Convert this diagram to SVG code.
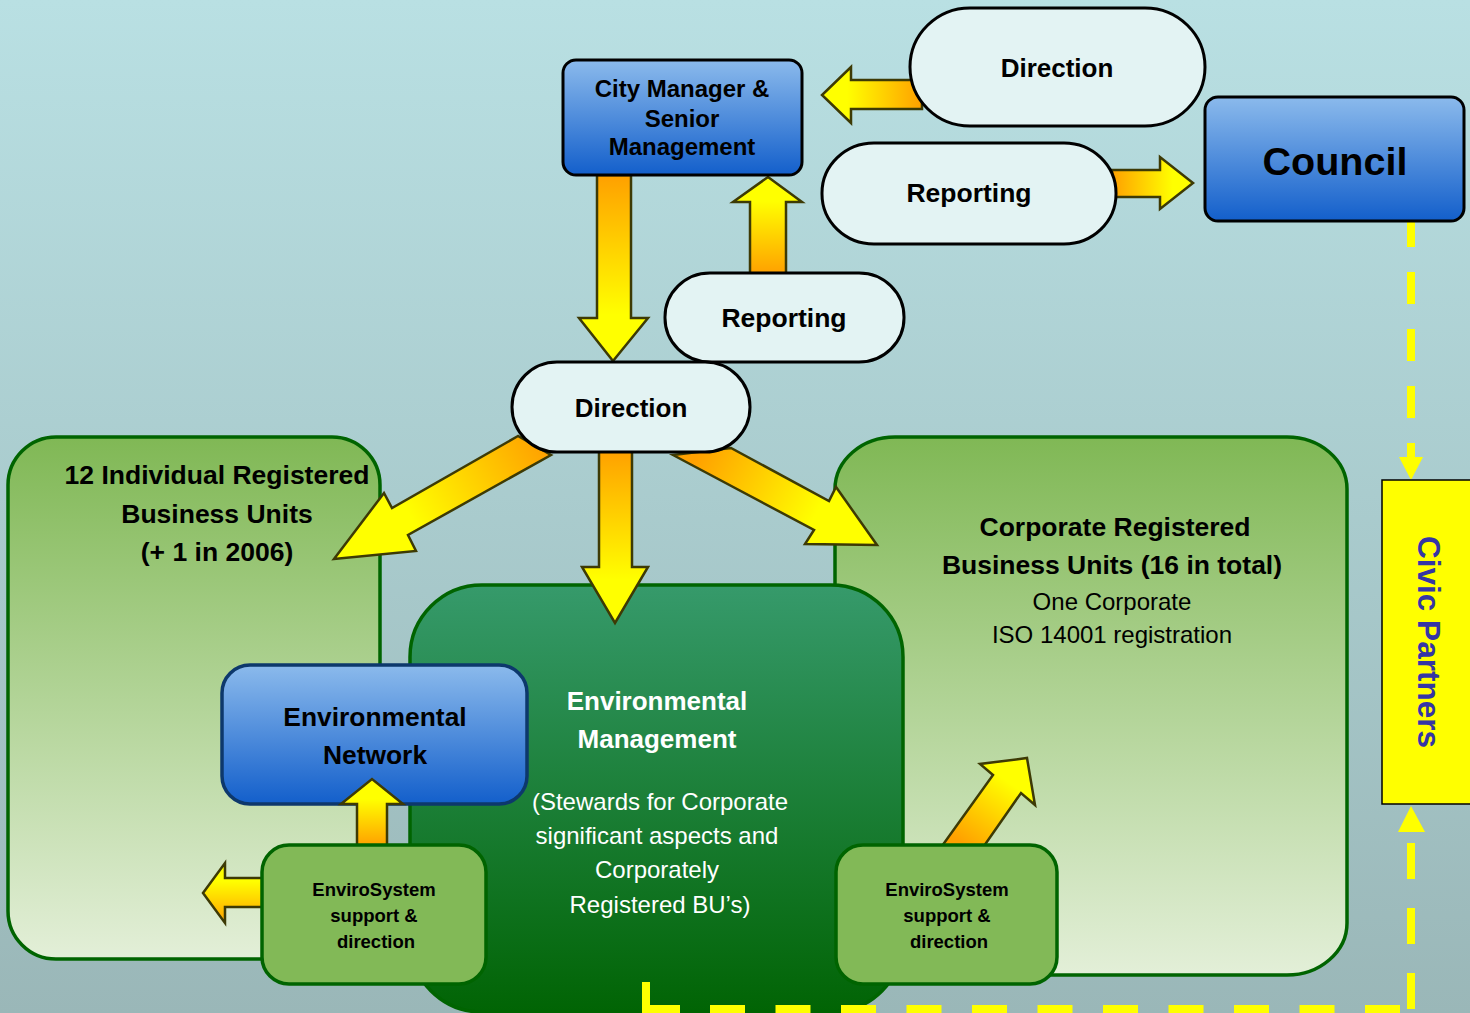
<svg xmlns="http://www.w3.org/2000/svg" width="1470" height="1013" viewBox="0 0 1470 1013">
<defs>
<linearGradient id="bg" x1="0" y1="0" x2="0" y2="1"><stop offset="0" stop-color="#b9e0e3"/><stop offset="1" stop-color="#9ab7b8"/></linearGradient>
<linearGradient id="lgreen" x1="0" y1="0" x2="0" y2="1"><stop offset="0" stop-color="#80b855"/><stop offset="1" stop-color="#e3efd8"/></linearGradient>
<linearGradient id="dgreen" x1="0" y1="0" x2="0" y2="1"><stop offset="0" stop-color="#369a6b"/><stop offset="1" stop-color="#016404"/></linearGradient>
<linearGradient id="blue" x1="0" y1="0" x2="0" y2="1"><stop offset="0" stop-color="#8bbaec"/><stop offset="1" stop-color="#135fcb"/></linearGradient>
<linearGradient id="gDown" x1="0" y1="0" x2="0" y2="1"><stop offset="0" stop-color="#ffa000"/><stop offset="0.75" stop-color="#ffff00"/></linearGradient>
<linearGradient id="gUp" x1="0" y1="1" x2="0" y2="0"><stop offset="0" stop-color="#ffa000"/><stop offset="0.75" stop-color="#ffff00"/></linearGradient>
<linearGradient id="gLeft" x1="1" y1="0" x2="0" y2="0"><stop offset="0" stop-color="#ffa000"/><stop offset="0.75" stop-color="#ffff00"/></linearGradient>
<linearGradient id="gRight" x1="0" y1="0" x2="1" y2="0"><stop offset="0" stop-color="#ffa000"/><stop offset="0.75" stop-color="#ffff00"/></linearGradient>
<linearGradient id="gUpRev" x1="0" y1="0" x2="0" y2="1"><stop offset="0.3" stop-color="#ffff00"/><stop offset="1" stop-color="#ffa000"/></linearGradient>
<linearGradient id="gDL" gradientUnits="userSpaceOnUse" x1="545" y1="445" x2="380" y2="540"><stop offset="0" stop-color="#ffa000"/><stop offset="0.8" stop-color="#ffff00"/></linearGradient>
<linearGradient id="gDR" gradientUnits="userSpaceOnUse" x1="700" y1="450" x2="845" y2="530"><stop offset="0" stop-color="#ffa000"/><stop offset="0.8" stop-color="#ffff00"/></linearGradient>
<linearGradient id="gUR" gradientUnits="userSpaceOnUse" x1="963" y1="844" x2="1015" y2="770"><stop offset="0" stop-color="#ffa000"/><stop offset="0.85" stop-color="#ffff00"/></linearGradient>
<style>
text{font-family:"Liberation Sans",Arial,sans-serif;text-anchor:middle;}
.b{font-weight:bold;}
.w{fill:#fff;}
.arrow{stroke:#3d3a05;stroke-width:2.5;stroke-linejoin:miter;}
.pill{fill:#e3f3f3;stroke:#000;stroke-width:3;}
.bluebox{fill:url(#blue);stroke:#000;stroke-width:3;}
.gbox{fill:url(#lgreen);stroke:#006400;stroke-width:3.5;}
.ebox{fill:#82b957;stroke:#006400;stroke-width:3.5;}
.dash{stroke:#ffff00;stroke-width:8;fill:none;}
.head{fill:#ffff00;}
</style>
</defs>
<rect x="0" y="0" width="1470" height="1013" fill="url(#bg)"/>

<g id="individual-bus">
<rect class="gbox" x="8" y="437" width="372" height="522" rx="48" ry="48"/>
<text class="b" x="217" y="484" font-size="26.5">12 Individual Registered</text>
<text class="b" x="217" y="523" font-size="26.5">Business Units</text>
<text class="b" x="217" y="561" font-size="26.5">(+ 1 in 2006)</text>
</g>

<g id="corporate-bus">
<rect class="gbox" x="835" y="437" width="512" height="538" rx="60" ry="52"/>
<text class="b" x="1115" y="536" font-size="26.5">Corporate Registered</text>
<text class="b" x="1112" y="574" font-size="26.5">Business Units (16 in total)</text>
<text x="1112" y="610" font-size="24">One Corporate</text>
<text x="1112" y="643" font-size="24">ISO 14001 registration</text>
</g>

<g id="env-management">
<rect x="410" y="585" width="493" height="427" rx="72" ry="72" fill="url(#dgreen)" stroke="#006400" stroke-width="3.5"/>
<text class="b w" x="657" y="710" font-size="26">Environmental</text>
<text class="b w" x="657" y="748" font-size="26">Management</text>
<text class="w" x="660" y="810" font-size="24">(Stewards for Corporate</text>
<text class="w" x="657" y="844" font-size="24">significant aspects and</text>
<text class="w" x="657" y="878" font-size="24">Corporately</text>
<text class="w" x="660" y="913" font-size="24">Registered BU’s)</text>
</g>

<g id="env-network">
<rect x="222" y="665" width="305" height="139" rx="28" ry="28" fill="url(#blue)" stroke="#0d386c" stroke-width="3.5"/>
<text class="b" x="375" y="726" font-size="26.4">Environmental</text>
<text class="b" x="375" y="764" font-size="26.4">Network</text>
</g>

<g id="connectors">
<polygon class="arrow" fill="url(#gLeft)" points="922,80 851,80 851,67 822,95 851,123 851,109 922,109"/>
<polygon class="arrow" fill="url(#gRight)" points="1112,170 1160,170 1160,157 1193,183 1160,209 1160,197 1112,197"/>
<polygon class="arrow" fill="url(#gDown)" points="597,175 631,175 631,318 648,318 613,361 579,318 597,318"/>
<polygon class="arrow" fill="url(#gUp)" points="750,274 786,274 786,202 802,202 768,177 733,202 750,202"/>
<polygon class="arrow" fill="url(#gDL)" points="518,436 392,508 384,493 334,559 416,551 408,535 551,455"/>
<polygon class="arrow" fill="url(#gDown)" points="599,450 632,450 632,567 648,567 615,623 582,567 599,567"/>
<polygon class="arrow" fill="url(#gDR)" points="673,455 814,530 805,544 877,545 836,487 829,501 731,448"/>
<polygon class="arrow" fill="url(#gUpRev)" points="357,846 387,846 387,804 403,804 372,779 341,804 357,804"/>
<polygon class="arrow" fill="url(#gUpRev)" points="264,878 225,878 225,863 203,893 225,923 225,907 264,907"/>
<polygon class="arrow" fill="url(#gUR)" points="942,846 993,775 980,764 1027,758 1035,805 1021,793 984,846"/>
<line class="dash" x1="1411" y1="215" x2="1411" y2="458" stroke-dasharray="32 25"/>
<polygon class="head" points="1399,457 1423,457 1411,480"/>
<line class="dash" x1="1411" y1="843" x2="1411" y2="1013" stroke-dasharray="36 29"/>
<polygon class="head" points="1398,832 1425,832 1411,806"/>
<path class="dash" d="M646,982 V1009 H680"/>
<line class="dash" x1="710" y1="1009" x2="1400" y2="1009" stroke-dasharray="35 30.5"/>
</g>

<g id="city-manager">
<rect class="bluebox" x="563" y="60" width="239" height="115" rx="13" ry="13"/>
<text class="b" x="682" y="97" font-size="24">City Manager &amp;</text>
<text class="b" x="682" y="127" font-size="24">Senior</text>
<text class="b" x="682" y="155" font-size="24">Management</text>
</g>

<g id="council">
<rect class="bluebox" x="1205" y="97" width="259" height="124" rx="13" ry="13"/>
<text class="b" x="1335" y="175" font-size="39.5">Council</text>
</g>

<g id="direction-top">
<rect class="pill" x="910" y="8" width="295" height="118" rx="60" ry="59"/>
<text class="b" x="1057" y="77" font-size="26">Direction</text>
</g>

<g id="reporting-right">
<rect class="pill" x="822" y="143" width="294" height="101" rx="52" ry="50"/>
<text class="b" x="969" y="202" font-size="26.5">Reporting</text>
</g>

<g id="reporting-mid">
<rect class="pill" x="665" y="273" width="239" height="89" rx="45" ry="44"/>
<text class="b" x="784" y="327" font-size="26.5">Reporting</text>
</g>

<g id="direction-mid">
<rect class="pill" x="512" y="362" width="238" height="90" rx="45" ry="45"/>
<text class="b" x="631" y="417" font-size="26">Direction</text>
</g>

<g id="envirosystem-left">
<rect class="ebox" x="262" y="845" width="224" height="139" rx="27" ry="27"/>
<text class="b" x="374" y="896" font-size="18.5">EnviroSystem</text>
<text class="b" x="374" y="922" font-size="18.5">support &amp;</text>
<text class="b" x="376" y="948" font-size="18.5">direction</text>
</g>

<g id="envirosystem-right">
<rect class="ebox" x="836" y="845" width="221" height="139" rx="27" ry="27"/>
<text class="b" x="947" y="896" font-size="18.5">EnviroSystem</text>
<text class="b" x="947" y="922" font-size="18.5">support &amp;</text>
<text class="b" x="949" y="948" font-size="18.5">direction</text>
</g>

<g id="civic-partners">
<rect x="1382" y="480" width="90" height="324" fill="#ffff00" stroke="#000" stroke-width="1.5"/>
<text class="b" transform="translate(1418,642) rotate(90)" font-size="31.5" fill="#3535a5">Civic Partners</text>
</g>
</svg>
